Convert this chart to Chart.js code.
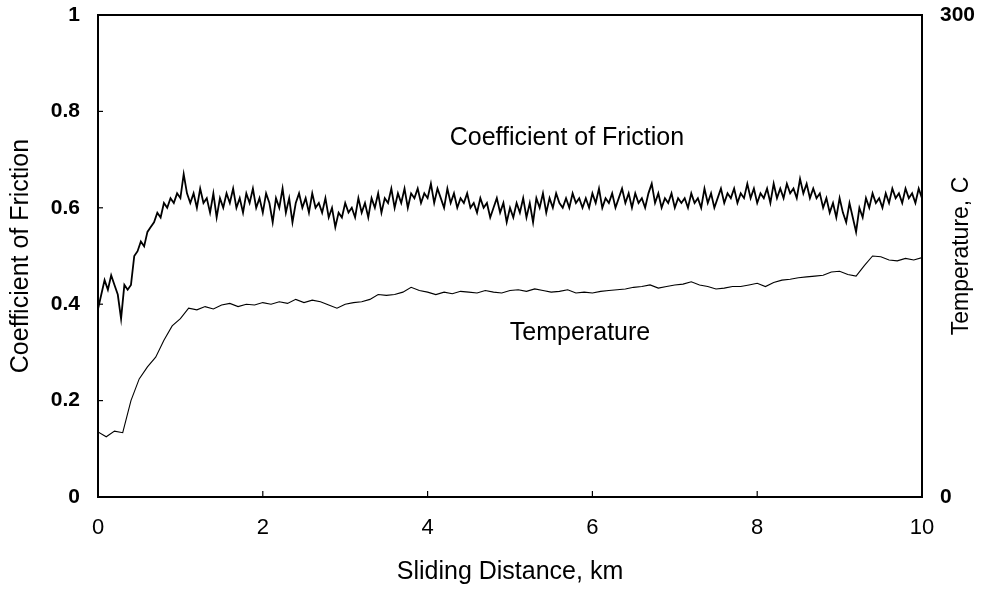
<!DOCTYPE html>
<html>
<head>
<meta charset="utf-8">
<script src="https://cdn.jsdelivr.net/npm/chart.js@4.4.1/dist/chart.umd.min.js"></script>
<style>
  html, body { margin: 0; padding: 0; background: #ffffff; }
  #wrap { width: 986px; height: 589px; }
</style>
</head>
<body>
<div id="wrap"><canvas id="c" width="986" height="589"></canvas></div>
<script>
// ---- Data ----
// Sliding distance sampling steps (km)
const frictionStepKm = 0.04;
const temperatureStepKm = 0.1;

// Coefficient of friction, sampled every 0.04 km from 0 to 10 km
const frictionValues = [
  0.39,0.42,0.45,0.43,0.46,0.44,0.42,0.37,0.44,0.43,
  0.44,0.50,0.51,0.53,0.52,0.55,0.56,0.57,0.59,0.58,
  0.61,0.60,0.62,0.61,0.63,0.62,0.67,0.63,
  0.61,0.63,0.60,0.64,0.61,0.62,0.59,0.63,0.58,0.62,
  0.60,0.63,0.61,0.64,0.60,0.62,0.59,0.63,0.61,0.64,
  0.60,0.62,0.59,0.63,0.61,0.57,0.62,0.60,0.64,0.59,
  0.62,0.57,0.61,0.63,0.60,0.62,0.59,0.63,0.60,0.61,
  0.59,0.62,0.58,0.60,0.56,0.59,0.58,0.61,0.59,0.60,
  0.58,0.62,0.59,0.61,0.58,0.62,0.60,0.63,0.59,0.62,
  0.61,0.64,0.60,0.63,0.61,0.64,0.60,0.63,0.62,0.64,
  0.61,0.63,0.62,0.65,0.61,0.64,0.62,0.60,0.64,0.61,
  0.63,0.60,0.62,0.61,0.63,0.60,0.61,0.59,0.62,0.60,
  0.61,0.58,0.60,0.62,0.59,0.61,0.57,0.60,0.58,0.61,
  0.59,0.62,0.58,0.61,0.57,0.62,0.60,0.63,0.59,0.62,
  0.60,0.63,0.61,0.60,0.62,0.60,0.63,0.61,0.62,0.60,
  0.62,0.60,0.63,0.61,0.64,0.60,0.62,0.61,0.63,0.60,
  0.62,0.64,0.61,0.63,0.60,0.63,0.61,0.62,0.60,0.63,
  0.65,0.61,0.63,0.60,0.62,0.61,0.63,0.60,0.62,0.61,
  0.62,0.60,0.63,0.61,0.62,0.60,0.64,0.61,0.63,0.60,
  0.62,0.64,0.61,0.63,0.62,0.64,0.61,0.63,0.62,0.65,
  0.62,0.64,0.61,0.63,0.62,0.64,0.61,0.65,0.62,0.64,
  0.62,0.65,0.63,0.64,0.62,0.66,0.63,0.65,0.62,0.64,
  0.62,0.63,0.60,0.62,0.59,0.61,0.58,0.62,0.59,0.57,
  0.61,0.58,0.55,0.60,0.58,0.62,0.60,0.63,0.61,0.62,
  0.60,0.63,0.61,0.64,0.62,0.63,0.61,0.64,0.62,0.63,
  0.61,0.64,0.62
];

// Temperature (C), sampled every 0.1 km from 0 to 10 km
const temperatureValues = [
  40.5,37.5,41,40,60,73.5,81,87,97.5,106.5,
  111,117.5,116.5,118.5,117,119.5,120.5,118.5,120,119.5,
  121,120,121.5,120.5,123,121,122.5,121.5,119.5,117.5,
  120,121,121.5,123,126,125.5,126,127.5,130.5,128.5,
  127.5,126,127.5,126.5,128,127.5,127,128.5,127.5,127,
  128.5,129,128,129.5,128.5,127.5,128,129,127,127.5,
  127,128,128.5,129,129.5,130.5,131,132,130,131,
  132,132.5,134,132,131,129.5,130,131,131,132,
  133,131,133.5,135,135.5,136.5,137,137.5,138,140,
  140.5,138.5,137.5,144,150,149.5,147.5,147,148.5,147.5,
  149
];

// Axis ticks
const xTicks = [0, 2, 4, 6, 8, 10];
const leftTicks = [0, 0.2, 0.4, 0.6, 0.8, 1];
const rightTicks = [0, 300];

// Text
const xTitle = 'Sliding Distance, km';
const leftTitle = 'Coefficient of Friction';
const rightTitle = 'Temperature, C';
const frictionLabel = 'Coefficient of Friction';
const temperatureLabel = 'Temperature';

// ---- Build chart ----
const frictionPoints = frictionValues.map((v, i) => ({ x: +(i * frictionStepKm).toFixed(2), y: v }));
const temperaturePoints = temperatureValues.map((v, i) => ({ x: +(i * temperatureStepKm).toFixed(1), y: v }));

const FONT = '"Liberation Sans", Arial, Helvetica, sans-serif';

const decorPlugin = {
  id: 'decor',
  afterDatasetsDraw(chart) {
    const { ctx, chartArea: a, scales } = chart;
    ctx.save();
    // frame
    ctx.strokeStyle = '#000';
    ctx.lineWidth = 2;
    ctx.strokeRect(a.left, a.top, a.right - a.left, a.bottom - a.top);
    // inward ticks on left axis
    ctx.lineWidth = 1.2;
    leftTicks.forEach(v => {
      const y = scales.y.getPixelForValue(v);
      ctx.beginPath(); ctx.moveTo(a.left, y); ctx.lineTo(a.left + 5, y); ctx.stroke();
    });
    // inward ticks on bottom axis
    xTicks.forEach(v => {
      const x = scales.x.getPixelForValue(v);
      ctx.beginPath(); ctx.moveTo(x, a.bottom); ctx.lineTo(x, a.bottom - 6); ctx.stroke();
    });
    // in-plot labels
    ctx.fillStyle = '#000';
    ctx.font = '25px ' + FONT;
    ctx.textAlign = 'center';
    ctx.textBaseline = 'middle';
    ctx.fillText(frictionLabel, scales.x.getPixelForValue(5.69), scales.y.getPixelForValue(0.745));
    ctx.fillText(temperatureLabel, scales.x.getPixelForValue(5.85), scales.y.getPixelForValue(0.34));
    // right axis title (reads bottom to top)
    ctx.font = '23px ' + FONT;
    ctx.translate(962, (a.top + a.bottom) / 2);
    ctx.rotate(-Math.PI / 2);
    ctx.fillText(rightTitle, 0, 0);
    ctx.restore();
  }
};

const noEdgePadding = s => { s.paddingTop = 0; s.paddingBottom = 0; };

new Chart(document.getElementById('c'), {
  type: 'line',
  data: {
    datasets: [
      {
        label: frictionLabel,
        data: frictionPoints,
        yAxisID: 'y',
        borderColor: '#000',
        borderWidth: 1.8,
        pointRadius: 0,
        tension: 0,
        fill: false
      },
      {
        label: temperatureLabel,
        data: temperaturePoints,
        yAxisID: 'y1',
        borderColor: '#000',
        borderWidth: 1.1,
        pointRadius: 0,
        tension: 0,
        fill: false
      }
    ]
  },
  options: {
    responsive: false,
    devicePixelRatio: 1,
    animation: false,
    layout: { padding: { top: 15, left: 0, right: 0, bottom: 0 } },
    plugins: { legend: { display: false }, tooltip: { enabled: false } },
    scales: {
      x: {
        type: 'linear',
        min: 0, max: 10,
        afterBuildTicks: s => { s.ticks = xTicks.map(v => ({ value: v })); },
        afterFit: s => { s.height = 92; s.paddingLeft = 0; s.paddingRight = 0; },
        grid: { display: false, drawTicks: false },
        border: { display: false },
        ticks: { color: '#000', padding: 18, font: { family: FONT, size: 22 }, callback: v => String(v) },
        title: { display: true, text: xTitle, color: '#000', font: { family: FONT, size: 25, lineHeight: 1.0 }, padding: { top: 0, bottom: 4 } }
      },
      y: {
        type: 'linear', position: 'left',
        min: 0, max: 1,
        afterBuildTicks: s => { s.ticks = leftTicks.map(v => ({ value: v })); },
        afterFit: s => { s.width = 98; noEdgePadding(s); },
        grid: { display: false, drawTicks: false },
        border: { display: false },
        ticks: { color: '#000', padding: 18, font: { family: FONT, size: 21, weight: 'bold' }, callback: v => String(v) },
        title: { display: true, text: leftTitle, color: '#000', font: { family: FONT, size: 25, lineHeight: 1.0 }, padding: { top: 9, bottom: 0 } }
      },
      y1: {
        type: 'linear', position: 'right',
        min: 0, max: 300,
        afterBuildTicks: s => { s.ticks = rightTicks.map(v => ({ value: v })); },
        afterFit: s => { s.width = 64; noEdgePadding(s); },
        grid: { display: false, drawTicks: false },
        border: { display: false },
        ticks: { color: '#000', padding: 18, font: { family: FONT, size: 21, weight: 'bold' }, callback: v => String(v) }
      }
    }
  },
  plugins: [decorPlugin]
});
</script>
</body>
</html>
